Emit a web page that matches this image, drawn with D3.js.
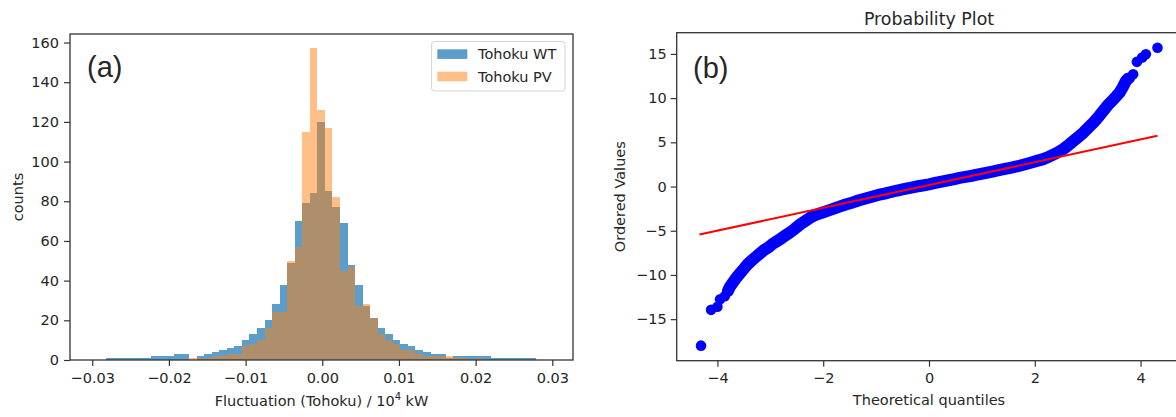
<!DOCTYPE html>
<html><head><meta charset="utf-8">
<script src="https://cdn.jsdelivr.net/npm/d3@7"></script>
<style>
html,body{margin:0;padding:0;background:#fff;}
svg{display:block;}
text{font-family:"DejaVu Sans",sans-serif;fill:#262626;}
</style></head><body>
<svg id="chart" width="1176" height="417"></svg>
<script>
// ---------------- data ----------------
const histSeries = ["Tohoku WT", "Tohoku PV"];
const histBinStart = -0.02819;
const histBinWidth = 0.000984;
const wtCounts = [1,1,1,1,1,1,2,2,2,3,3,0,2,3,4,5,6,7,10,13,16,20,28,38,49,70,79,84,120,85,77,69,48,38,27,21,16,13,10,8,7,5,4,3,3,1,2,2,2,2,2,1,1,1,1,1,1];
const pvCounts = [0,0,0,0,0,0,0,0,0,0,0,1,1,1,2,2,3,3,7,8,10,16,24,24,50,57,115,157,126,117,82,45,47,27,28,21,13,10,8,5,5,3,2,2,2,2,1,1,0,1,0,0,0,0,0,0,0];
const histXTicks = [-0.03,-0.02,-0.01,0,0.01,0.02,0.03];
const histYTicks = [0,20,40,60,80,100,120,140,160];

const qqXTicks = [-4,-2,0,2,4];
const qqYTicks = [-15,-10,-5,0,5,10,15];
const qqLowTail = [[-4.31,-18.0],[-4.12,-13.95],[-4.0,-13.6],[-3.95,-12.75],[-3.86,-12.4]];
const qqBand = [[-3.80,-11.8],[-3.76,-11.3],[-3.70,-10.8],[-3.64,-10.3],[-3.57,-9.8],[-3.50,-9.3],[-3.43,-8.8],[-3.36,-8.4],[-3.28,-8.0],[-3.20,-7.6],[-3.12,-7.2],[-3.04,-6.9],[-2.96,-6.5],[-2.88,-6.2],[-2.80,-5.9],[-2.72,-5.55],[-2.63,-5.2],[-2.54,-4.8],[-2.44,-4.3],[-2.34,-3.9],[-2.24,-3.5],[-2.14,-3.2],[-2.04,-3.0],[-1.92,-2.75],[-1.80,-2.5],[-1.68,-2.25],[-1.56,-2.0],[-1.44,-1.8],[-1.32,-1.55],[-1.20,-1.35],[-1.08,-1.15],[-0.96,-0.95],[-0.84,-0.8],[-0.72,-0.62],[-0.60,-0.45],[-0.48,-0.3],[-0.36,-0.15],[-0.24,0.0],[-0.12,0.12],[0.00,0.25],[0.12,0.4],[0.24,0.55],[0.36,0.7],[0.48,0.85],[0.60,1.0],[0.72,1.12],[0.84,1.25],[0.96,1.4],[1.08,1.55],[1.20,1.7],[1.32,1.85],[1.44,2.0],[1.56,2.15],[1.68,2.3],[1.80,2.5],[1.92,2.7],[2.04,2.9],[2.16,3.1],[2.28,3.4],[2.40,3.75],[2.52,4.15],[2.62,4.6],[2.72,5.1],[2.82,5.6],[2.92,6.1],[3.02,6.7],[3.12,7.3],[3.22,8.0],[3.30,8.6],[3.38,9.2],[3.46,9.7],[3.54,10.2],[3.60,10.6],[3.66,11.2],[3.72,11.9],[3.76,12.2]];
const qqHighTail = [[3.80,12.3],[3.86,12.7],[3.93,14.1],[4.03,14.6],[4.10,14.95],[4.32,15.7]];
const qqFitLine = [[-4.34,-5.43],[4.32,5.74]];

// ---------------- drawing ----------------
const svg = d3.select("#chart");
const FS = 14.5;
const spine = "#333";

function styleAxis(g) {
  g.select(".domain").remove();
  g.selectAll(".tick line").attr("stroke", spine).attr("stroke-width", 1.2);
  g.selectAll(".tick text").style("font-size", FS + "px").attr("fill", "#262626")
    .style("font-family", '"DejaVu Sans",sans-serif');
}

// ===== Panel (a) histogram =====
const hx = d3.scaleLinear().domain([-0.0329, 0.0327]).range([70, 573]);
const hy = d3.scaleLinear().domain([0, 164.3]).range([360, 34]);

const binsWT = wtCounts.map((c, i) => ({x0: histBinStart + i * histBinWidth, x1: histBinStart + (i + 1) * histBinWidth, c}));
const binsPV = pvCounts.map((c, i) => ({x0: histBinStart + i * histBinWidth, x1: histBinStart + (i + 1) * histBinWidth, c}));

const colWT = "#1f77b4", opWT = 0.72;
const colPV = "#ff7f0e", opPV = 0.5;

const gA = svg.append("g");
gA.selectAll("rect.wt").data(binsWT.filter(d => d.c > 0)).join("rect").attr("class", "wt")
  .attr("x", d => hx(d.x0)).attr("width", d => hx(d.x1) - hx(d.x0))
  .attr("y", d => hy(d.c)).attr("height", d => hy(0) - hy(d.c))
  .attr("fill", colWT).attr("fill-opacity", opWT).attr("shape-rendering", "crispEdges");
gA.selectAll("rect.pv").data(binsPV.filter(d => d.c > 0)).join("rect").attr("class", "pv")
  .attr("x", d => hx(d.x0)).attr("width", d => hx(d.x1) - hx(d.x0))
  .attr("y", d => hy(d.c)).attr("height", d => hy(0) - hy(d.c))
  .attr("fill", colPV).attr("fill-opacity", opPV).attr("shape-rendering", "crispEdges");

gA.append("g").attr("transform", "translate(0,360)")
  .call(d3.axisBottom(hx).tickValues(histXTicks).tickFormat(d3.format(".2f")).tickSize(6).tickPadding(6.5))
  .call(styleAxis);
gA.append("g").attr("transform", "translate(70,0)")
  .call(d3.axisLeft(hy).tickValues(histYTicks).tickFormat(d3.format("d")).tickSize(6).tickPadding(5))
  .call(styleAxis);

gA.append("rect").attr("x", 70).attr("y", 34).attr("width", 503).attr("height", 326)
  .attr("fill", "none").attr("stroke", spine).attr("stroke-width", 1.3);

gA.append("text").attr("transform", "translate(22.5,197) rotate(-90)").attr("text-anchor", "middle")
  .style("font-size", FS + "px").text("counts");
const xl = gA.append("text").attr("x", 321.5).attr("y", 406).attr("text-anchor", "middle").style("font-size", FS + "px");
xl.append("tspan").text("Fluctuation (Tohoku) / 10");
xl.append("tspan").attr("dy", -6).style("font-size", "10px").text("4");
xl.append("tspan").attr("dy", 6).text(" kW");

gA.append("text").attr("x", 87).attr("y", 77).style("font-family", '"Liberation Sans",Arial,sans-serif')
  .style("font-size", "29px").attr("fill", "#000").text("(a)");

// legend
const lg = gA.append("g");
lg.append("rect").attr("x", 431.5).attr("y", 41.5).attr("width", 133.5).attr("height", 49.5).attr("rx", 3)
  .attr("fill", "#fff").attr("fill-opacity", 0.8).attr("stroke", "#d5d5d5").attr("stroke-width", 1);
[[colWT, opWT, 49.3], [colPV, opPV, 71.7]].forEach((s, i) => {
  lg.append("rect").attr("x", 437.3).attr("y", s[2]).attr("width", 30).attr("height", 9.6)
    .attr("fill", s[0]).attr("fill-opacity", s[1]);
  lg.append("text").attr("x", 478).attr("y", s[2] + 4.8).attr("dy", "0.36em")
    .style("font-size", FS + "px").text(histSeries[i]);
});

// ===== Panel (b) probability plot =====
const qx = d3.scaleLinear().domain([-4.77, 4.77]).range([676.7, 1181.3]);
const qy = d3.scaleLinear().domain([-19.7, 17.4]).range([360.7, 32.7]);
const gB = svg.append("g");

gB.append("path").datum(qqBand)
  .attr("d", d3.line().x(d => qx(d[0])).y(d => qy(d[1])).curve(d3.curveLinear))
  .attr("fill", "none").attr("stroke", "#0000ff").attr("stroke-width", 12)
  .attr("stroke-linecap", "round").attr("stroke-linejoin", "round");
gB.selectAll("circle.pt").data(qqLowTail.concat(qqBand, qqHighTail)).join("circle").attr("class", "pt")
  .attr("cx", d => qx(d[0])).attr("cy", d => qy(d[1])).attr("r", 5.3).attr("fill", "#0000ff");

gB.append("path").datum(qqFitLine)
  .attr("d", d3.line().x(d => qx(d[0])).y(d => qy(d[1])))
  .attr("stroke", "#ff0000").attr("stroke-width", 2).attr("fill", "none");

gB.append("g").attr("transform", "translate(0,360.7)")
  .call(d3.axisBottom(qx).tickValues(qqXTicks).tickFormat(d3.format("d")).tickSize(6).tickPadding(6.5))
  .call(styleAxis);
gB.append("g").attr("transform", "translate(676.7,0)")
  .call(d3.axisLeft(qy).tickValues(qqYTicks).tickFormat(d3.format("d")).tickSize(6).tickPadding(4))
  .call(styleAxis);

gB.append("rect").attr("x", 676.7).attr("y", 32.7).attr("width", 504.6).attr("height", 328)
  .attr("fill", "none").attr("stroke", spine).attr("stroke-width", 1.3);

gB.append("text").attr("x", 929).attr("y", 24.5).attr("text-anchor", "middle")
  .style("font-size", "17.4px").text("Probability Plot");
gB.append("text").attr("x", 929).attr("y", 405).attr("text-anchor", "middle")
  .style("font-size", FS + "px").text("Theoretical quantiles");
gB.append("text").attr("transform", "translate(625,196.7) rotate(-90)").attr("text-anchor", "middle")
  .style("font-size", FS + "px").text("Ordered Values");
gB.append("text").attr("x", 693).attr("y", 77.7).style("font-family", '"Liberation Sans",Arial,sans-serif')
  .style("font-size", "29px").attr("fill", "#000").text("(b)");
</script>
</body></html>
